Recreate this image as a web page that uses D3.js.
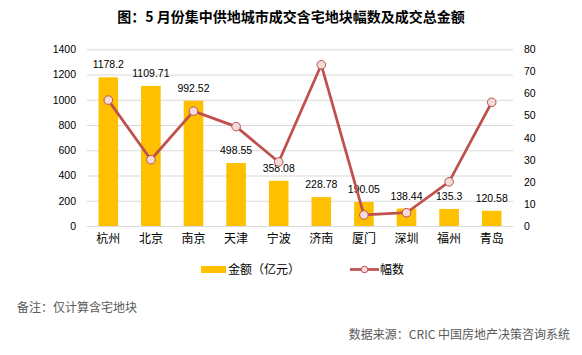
<!DOCTYPE html>
<html><head><meta charset="utf-8">
<script src="https://cdn.jsdelivr.net/npm/d3@7"></script>
<style>
body{margin:0;background:#fff;}
svg{display:block;}
</style></head>
<body>
<svg id="chart" width="582" height="355"></svg>
<script>
const cities = ["杭州","北京","南京","天津","宁波","济南","厦门","深圳","福州","青岛"];
const amounts = [1178.2,1109.71,992.52,498.55,358.08,228.78,190.05,138.44,135.3,120.58];
const counts = [57,30,52,45,29,73,5,6,20,56];
const leftTicks = [0,200,400,600,800,1000,1200,1400];
const rightTicks = [0,10,20,30,40,50,60,70,80];
const title = "图：5 月份集中供地城市成交含宅地块幅数及成交总金额";
const seriesNames = ["金额（亿元）","幅数"];
const note = "备注：仅计算含宅地块";
const source = "数据来源：CRIC 中国房地产决策咨询系统";

const numFont = "'Liberation Sans', 'Noto Sans CJK SC', sans-serif";
const cjkFont = "'Noto Sans CJK SC', sans-serif";
const svg = d3.select("#chart");
const m = {left:87, right:513, top:49.3, bottom:226};

const x = d3.scaleBand().domain(cities).range([m.left, m.right]).paddingInner(0.54).paddingOuter(0.27);
const yL = d3.scaleLinear().domain([0,1400]).range([m.bottom, m.top]);
const yR = d3.scaleLinear().domain([0,80]).range([m.bottom, m.top]);

// title
svg.append("text").attr("x",291).attr("y",22).attr("text-anchor","middle")
  .attr("font-family",cjkFont).attr("font-weight","bold").attr("font-size",14).attr("fill","#000").text(title);

// gridlines
svg.append("g").selectAll("line").data(leftTicks).join("line")
  .attr("x1",m.left).attr("x2",m.right).attr("y1",d=>yL(d)+0.5).attr("y2",d=>yL(d)+0.5)
  .attr("stroke","#d9d9d9").attr("stroke-width",1);

// left axis
const gL = svg.append("g").attr("transform",`translate(${m.left-11},0)`)
  .call(d3.axisLeft(yL).tickValues(leftTicks).tickFormat(d3.format("d")).tickSize(0).tickPadding(0));
gL.select(".domain").remove();
gL.selectAll("text").attr("font-family",numFont).attr("font-size",10.5).attr("fill","#000");

// right axis
const gR = svg.append("g").attr("transform",`translate(${m.right+11},0)`)
  .call(d3.axisRight(yR).tickValues(rightTicks).tickFormat(d3.format("d")).tickSize(0).tickPadding(0));
gR.select(".domain").remove();
gR.selectAll("text").attr("font-family",numFont).attr("font-size",10.5).attr("fill","#000");

// bars
svg.append("g").selectAll("rect").data(amounts).join("rect")
  .attr("x",(d,i)=>x(cities[i])).attr("width",x.bandwidth())
  .attr("y",d=>yL(d)).attr("height",d=>yL(0)-yL(d)).attr("fill","#ffc000");

// bar labels
svg.append("g").selectAll("text").data(amounts).join("text")
  .attr("x",(d,i)=>x(cities[i])+x.bandwidth()/2).attr("y",d=>yL(d)-9)
  .attr("text-anchor","middle").attr("font-family",numFont).attr("font-size",10.5).attr("fill","#000")
  .text(d=>d);

// x axis labels
const gX = svg.append("g").attr("transform",`translate(0,${m.bottom+8})`)
  .call(d3.axisBottom(x).tickSize(0).tickPadding(0));
gX.select(".domain").remove();
gX.selectAll("text").attr("font-family",cjkFont).attr("font-size",12).attr("fill","#000").attr("dy","0.75em");

// line
const line = d3.line().x((d,i)=>x(cities[i])+x.bandwidth()/2).y(d=>yR(d));
svg.append("path").datum(counts).attr("d",line).attr("fill","none")
  .attr("stroke","#c0504d").attr("stroke-width",2.75).attr("stroke-linejoin","round");
svg.append("g").selectAll("circle").data(counts).join("circle")
  .attr("cx",(d,i)=>x(cities[i])+x.bandwidth()/2).attr("cy",d=>yR(d)).attr("r",4.3)
  .attr("fill","#f2dcdb").attr("stroke","#c0504d").attr("stroke-width",1);

// legend
const lg = svg.append("g");
lg.append("rect").attr("x",201).attr("y",266).attr("width",25).attr("height",7).attr("fill","#ffc000");
lg.append("text").attr("x",228).attr("y",269.5).attr("dy","0.35em").attr("font-family",cjkFont)
  .attr("font-size",12).attr("fill","#000").text(seriesNames[0]);
lg.append("line").attr("x1",350).attr("x2",379).attr("y1",269.5).attr("y2",269.5)
  .attr("stroke","#c0504d").attr("stroke-width",2.75);
lg.append("circle").attr("cx",364.5).attr("cy",269.5).attr("r",3.3)
  .attr("fill","#f2dcdb").attr("stroke","#c0504d").attr("stroke-width",1);
lg.append("text").attr("x",380).attr("y",269.5).attr("dy","0.35em").attr("font-family",cjkFont)
  .attr("font-size",12).attr("fill","#000").text(seriesNames[1]);

// notes
svg.append("text").attr("x",17).attr("y",308).attr("dy","0.35em").attr("font-family",cjkFont)
  .attr("font-size",12).attr("fill","#595959").text(note);
svg.append("text").attr("x",570).attr("y",335).attr("dy","0.35em").attr("text-anchor","end").attr("font-family",cjkFont)
  .attr("font-size",12).attr("fill","#595959").text(source);
</script>
</body></html>
